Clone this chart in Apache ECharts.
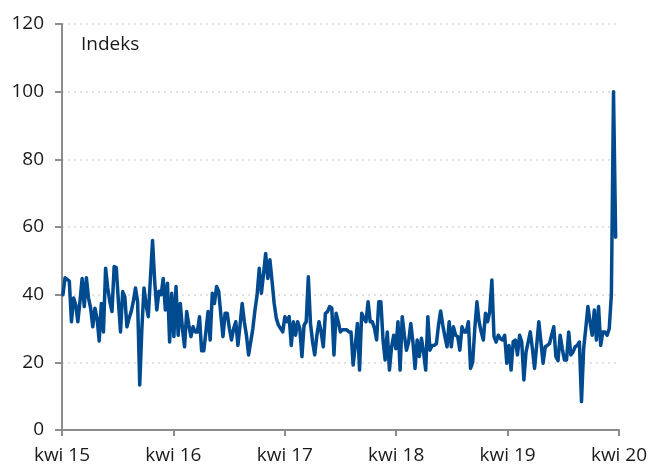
<!DOCTYPE html>
<html>
<head>
<meta charset="utf-8">
<script src="https://cdn.jsdelivr.net/npm/echarts@6/dist/echarts.min.js"></script>
<style>
html,body{margin:0;padding:0;background:#fff;}
#c{width:652px;height:466px;}
</style>
</head>
<body>
<div id="c"></div>
<script>
// Weekly index values, starting early April 2015
const startDate = '2015-04-04';
const values2015 = [40, 45, 44.5, 44, 32, 39, 37, 32, 38, 44.8,
  36.5, 45, 39, 36, 30.5, 36, 33, 26.3, 37.4, 29,
  47.8, 42, 37.9, 35, 48.3, 48, 38, 29, 40.9, 39.4,
  30.5, 33, 35, 38, 42, 38, 13.3, 30, 42, 37,
  33.5, 45, 56, 44, 35.5, 41, 40, 44.8, 35.5, 43.4,
  26, 40.4];
const values2016 = [27.6, 42.4, 28, 37.4, 30, 24.6, 35, 31, 27.6, 30.5,
  29, 29, 33.5, 23.4, 23.4, 29, 35, 26.6, 40.4, 37.4,
  42.4, 41, 34, 27.6, 34.5, 34.5, 30, 26.6, 30, 32,
  25, 31, 37.4, 32, 28, 22.2, 26, 30, 35.5, 40,
  47.8, 40.4, 46, 52.2, 44.8, 50.3, 44, 37.4, 33, 31,
  30, 29];
const values2017 = [33.5, 32, 33.5, 25, 32, 28, 32, 30, 21.7, 31,
  32, 45.3, 31.5, 26, 22.2, 28, 32, 29, 24.6, 34.5,
  35, 36.5, 36, 22.2, 34.5, 32, 29, 29.6, 29.6, 29.6,
  29, 29, 19.2, 25, 31.5, 17.7, 34.5, 33, 32, 37.9,
  32, 32, 30, 26.6, 37.9, 37.9, 26.6, 20.7, 29, 17.7,
  24.5, 28];
const values2018 = [24, 32, 17.7, 33.5, 28, 23.6, 26, 31.5, 26.1, 18.2,
  26.6, 21.7, 27.1, 23, 17.7, 33.5, 23.6, 25, 25, 25.5,
  31, 35.2, 31, 27.6, 24.6, 32, 24.6, 30.5, 28, 27.6,
  23.6, 30.5, 29, 29, 32, 18.2, 20, 30, 37.9, 32,
  29, 26.6, 34.5, 32, 35, 44.3, 27.6, 26, 28, 27,
  26.6, 28];
const values2019 = [19.7, 25, 17.7, 26.1, 26.6, 22.2, 28, 26, 14.8, 23,
  26, 29, 24, 18.2, 25, 32, 26, 19.7, 24.6, 25,
  25.5, 28, 30.5, 21.7, 20.5, 28, 24, 20.7, 20.7, 29,
  22.2, 23, 24.6, 25, 26, 8.4, 24, 30, 36.5, 32,
  28, 35.5, 26.6, 36.5, 25, 29, 29, 28, 30, 40,
  100, 57];
const tickLabels = ['kwi 15', 'kwi 16', 'kwi 17', 'kwi 18', 'kwi 19', 'kwi 20'];
const axisStart = '2015-04-01';
const axisEnd = '2020-04-01';
const yTicks = [0, 20, 40, 60, 80, 100, 120];
const unitLabel = 'Indeks';

const allValues = [].concat(values2015, values2016, values2017, values2018, values2019);
const DAY = 86400000;
const t0 = Date.parse(axisStart + 'T00:00:00Z');
const tEnd = Date.parse(axisEnd + 'T00:00:00Z');
const tStart = Date.parse(startDate + 'T00:00:00Z');
const span = (tEnd - t0);
// x expressed in years from axis start (5 years total)
const seriesData = allValues.map((v, i) => [((tStart + i * 7 * DAY) - t0) / span * (tickLabels.length - 1), v]);

const FONT = "'Open Sans','Noto Sans',sans-serif";
const chart = echarts.init(document.getElementById('c'), null, {renderer: 'canvas'});
chart.setOption({
  animation: false,
  backgroundColor: '#ffffff',
  grid: {left: 62, right: 33, top: 24, bottom: 36, containLabel: false},
  title: {
    text: unitLabel, left: 76, top: 30,
    textStyle: {fontFamily: FONT, fontSize: 19, fontWeight: 'normal', color: '#1a1a1a'}
  },
  xAxis: {
    type: 'value', min: 0, max: tickLabels.length - 1, interval: 1,
    axisLine: {show: true, lineStyle: {color: '#8c8c8c', width: 2}},
    axisTick: {show: true, length: 6, lineStyle: {color: '#8c8c8c', width: 2}},
    splitLine: {show: false},
    axisLabel: {
      margin: 16, fontFamily: FONT, fontSize: 19, color: '#1a1a1a',
      formatter: v => tickLabels[Math.round(v)] || ''
    }
  },
  yAxis: {
    type: 'value', min: yTicks[0], max: yTicks[yTicks.length - 1], interval: 20,
    axisLine: {show: true, lineStyle: {color: '#8c8c8c', width: 2}},
    axisTick: {show: true, length: 7, lineStyle: {color: '#8c8c8c', width: 2}},
    splitLine: {show: true, lineStyle: {color: '#d8d8d8', width: 1.5, type: [2, 4]}},
    axisLabel: {margin: 18, fontFamily: FONT, fontSize: 19, color: '#1a1a1a'}
  },
  series: [{
    type: 'line', data: seriesData, showSymbol: false, symbol: 'none',
    lineStyle: {color: '#004a8f', width: 3.5, join: 'round', cap: 'round'},
    z: 5
  }]
});
</script>
</body>
</html>
